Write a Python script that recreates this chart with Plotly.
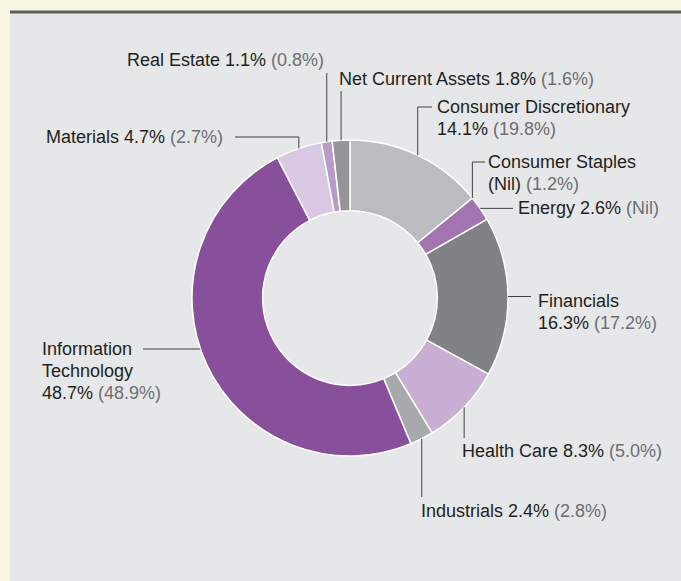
import math
import plotly.graph_objects as go

# ---------------- data ----------------
sectors = ["Consumer Discretionary", "Consumer Staples", "Energy", "Financials",
           "Health Care", "Industrials", "Information Technology", "Materials",
           "Real Estate", "Net Current Assets"]
weights = [14.1, 0.0, 2.6, 16.3, 8.3, 2.4, 48.7, 4.7, 1.1, 1.8]
current_text = ["14.1%", "(Nil)", "2.6%", "16.3%", "8.3%", "2.4%", "48.7%", "4.7%", "1.1%", "1.8%"]
prior_text = ["(19.8%)", "(1.2%)", "(Nil)", "(17.2%)", "(5.0%)", "(2.8%)", "(48.9%)", "(2.7%)", "(0.8%)", "(1.6%)"]
colors = ["#BBBCBF", "#9E9FA2", "#A274B0", "#808285", "#C9AED3", "#A7A9AC",
          "#884F9B", "#D8C8E2", "#B99BC8", "#939598"]

# label line breaks: list of lines, each line = (main part, grey part) built from the arrays
def label_lines(i):
    name, cur, pri = sectors[i], current_text[i], prior_text[i]
    if name in ("Consumer Discretionary", "Consumer Staples", "Financials"):
        return [(name, ""), (cur + " ", pri)]
    if name == "Information Technology":
        return [("Information", ""), ("Technology", ""), (cur + " ", pri)]
    return [(name + " " + cur + " ", pri)]

# ---------------- layout constants (pixels) ----------------
W, H = 681, 581
CX, CY, R = 350, 298, 158
HOLE = 0.553
FONT = "Liberation Sans, Arial, Helvetica, sans-serif"
DARK = "#231F20"
GREY = "#6D6E71"
LINE_H = 22

# label placement: (left x, centre y of first line), leader style
placement = {
    "Consumer Discretionary": ((437, 107), ("hv", 432, 107)),
    "Consumer Staples": ((488, 162), ("hv", 485, 162)),
    "Energy": ((518, 208), ("h", 513)),
    "Financials": ((538, 301), ("h", 531)),
    "Health Care": ((462, 451), ("v", 438)),
    "Industrials": ((421, 511), ("v", 497)),
    "Information Technology": ((42, 349), ("edge", 143, 349)),
    "Materials": ((46, 137), ("hv", 235, 137)),
    "Real Estate": ((127, 60), ("v", 73)),
    "Net Current Assets": ((339, 79), ("v", 91)),
}

def px(x):
    return x / W

def py(y):
    return 1 - y / H

fig = go.Figure()
fig.add_trace(go.Pie(
    labels=sectors, values=weights, sort=False, direction="clockwise", rotation=0,
    hole=HOLE, textinfo="none", hoverinfo="skip", showlegend=False,
    marker=dict(colors=colors, line=dict(color="white", width=1.5)),
    domain=dict(x=[px(CX - R), px(CX + R)], y=[py(CY + R), py(CY - R)]),
))

shapes = [
    dict(type="rect", xref="paper", yref="paper", x0=px(10), x1=1.0, y0=0, y1=py(12),
         fillcolor="#E6E7E8", line=dict(width=0), layer="below"),
    dict(type="line", xref="paper", yref="paper", x0=px(10), x1=1.0, y0=py(12), y1=py(12),
         line=dict(color="#5E5F5A", width=3)),
]
annotations = []

total = sum(weights)
cum = 0.0
for i, name in enumerate(sectors):
    mid = (cum + weights[i] / 2) / total
    cum += weights[i]
    theta = 2 * math.pi * mid
    ax = CX + R * math.sin(theta)
    ay = CY - R * math.cos(theta)
    (lx, ly), leader = placement[name]
    kind = leader[0]
    if kind == "v":
        pts = [(ax, leader[1]), (ax, ay)]
    elif kind == "h":
        pts = [(leader[1], ay), (ax, ay)]
    elif kind == "hv":
        pts = [(leader[1], leader[2]), (ax, leader[2]), (ax, ay)]
    else:  # horizontal to outer edge at given y
        yy = leader[2]
        ex = CX - math.sqrt(R * R - (yy - CY) ** 2)
        pts = [(leader[1], yy), (ex, yy)]
    path = "M " + " L ".join(f"{px(x):.5f},{py(y):.5f}" for x, y in pts)
    shapes.append(dict(type="path", xref="paper", yref="paper", path=path,
                       line=dict(color="#414042", width=1)))
    for k, (main, grey) in enumerate(label_lines(i)):
        txt = main
        if grey:
            txt += f"<span style='color:{GREY}'>{grey}</span>"
        annotations.append(dict(
            x=px(lx), y=py(ly + k * LINE_H), xref="paper", yref="paper",
            xanchor="left", yanchor="middle", showarrow=False, text=txt,
            font=dict(family=FONT, size=18, color=DARK), xshift=-2,
        ))

fig.update_layout(
    width=W, height=H, margin=dict(l=0, r=0, t=0, b=0),
    paper_bgcolor="#F8F5E2", plot_bgcolor="#F8F5E2",
    shapes=shapes, annotations=annotations, hovermode=False,
)
fig.write_html(
    "out.html",
    config={"displayModeBar": False},
    post_script="document.body.style.margin='0';document.body.style.overflow='hidden';",
)
